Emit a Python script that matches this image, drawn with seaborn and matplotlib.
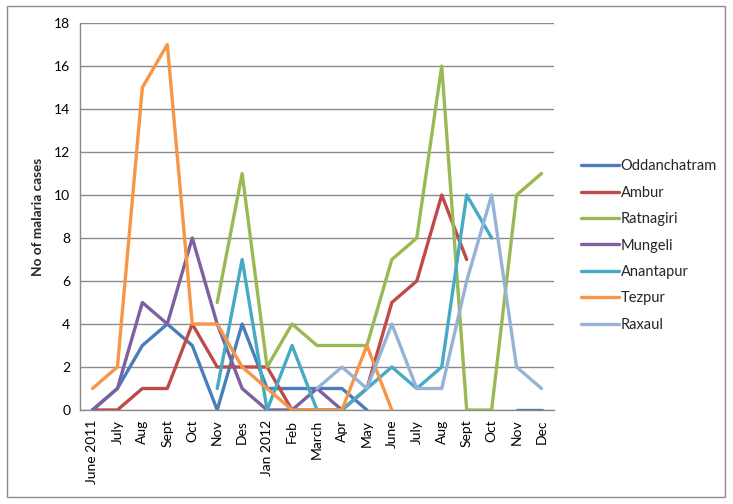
import numpy as np
import pandas as pd
import matplotlib
matplotlib.use("Agg")
import matplotlib.pyplot as plt
import seaborn as sns
from matplotlib.patches import Rectangle

# months from June 2011 to Dec 2012 (gaps in survey = NaN)
months = ['June 2011', 'July', 'Aug', 'Sept', 'Oct', 'Nov', 'Des', 'Jan 2012', 'Feb',
          'March', 'Apr', 'May', 'June', 'July', 'Aug', 'Sept', 'Oct', 'Nov', 'Dec']
n = np.nan
oddanchatram = [0, 1, 3, 4, 3, 0, 4, 1, 1, 1, 1, 0, n, n, n, n, n, 0, 0]
ambur = [0, 0, 1, 1, 4, 2, 2, 2, 0, 0, 0, 1, 5, 6, 10, 7, n, n, n]
ratnagiri = [n, n, n, n, n, 5, 11, 2, 4, 3, 3, 3, 7, 8, 16, 0, 0, 10, 11]
mungeli = [0, 1, 5, 4, 8, 4, 1, 0, 0, 1, 0, n, n, n, n, n, n, n, n]
anantapur = [n, n, n, n, n, 1, 7, 0, 3, 0, 0, 1, 2, 1, 2, 10, 8, n, n]
tezpur = [1, 2, 15, 17, 4, 4, 2, 1, 0, 0, 0, 3, 0, n, n, n, n, n, n]
raxaul = [n, n, n, n, n, n, n, n, n, 1, 2, 1, 4, 1, 1, 6, 10, 2, 1]

series = {'Oddanchatram': oddanchatram, 'Ambur': ambur, 'Ratnagiri': ratnagiri,
          'Mungeli': mungeli, 'Anantapur': anantapur, 'Tezpur': tezpur, 'Raxaul': raxaul}
colors = ['#4A7EBB', '#BE4B48', '#98B954', '#7D60A0', '#46AAC5', '#F79646', '#95B3D7']

sns.set_style("white")
plt.rcParams['font.family'] = ['Lato', 'DejaVu Sans']

fig = plt.figure(figsize=(7.33, 5.04), dpi=100)
ax = fig.add_axes([80 / 733, 94 / 504, 474 / 733, 387 / 504])

x = np.arange(len(months))
for (name, vals), col in zip(series.items(), colors):
    df = pd.DataFrame({'x': x, 'y': vals})
    # split into contiguous runs so the gaps stay open
    grp = df['y'].isna().cumsum()
    first = True
    for _, seg in df.dropna().groupby(grp[df['y'].notna()]):
        sns.lineplot(data=seg, x='x', y='y', color=col, linewidth=2.4, ax=ax,
                     label=name if first else None, legend=False, zorder=3)
        first = False

ax.set_xlim(-0.5, len(months) - 0.5)
ax.set_ylim(0, 18)
ax.set_yticks(range(0, 19, 2))
ax.set_xticks(x)
ax.set_xticklabels(months, rotation=90)
ax.tick_params(axis='both', labelsize=10, length=0, pad=7, colors='black')
ax.set_xlabel('')
ax.set_ylabel('No of malaria cases', fontsize=9.8, fontweight='bold', labelpad=7)
ax.yaxis.grid(True, color='#8a8a8a', linewidth=1)
ax.set_axisbelow(True)
for s in ['top', 'right']:
    ax.spines[s].set_visible(False)
for s in ['left', 'bottom']:
    ax.spines[s].set_color('#8a8a8a')
    ax.spines[s].set_linewidth(1)

ax.legend(loc='center left', bbox_to_anchor=(1.03, 0.425), frameon=False, fontsize=10.5,
          handlelength=2.6, handletextpad=0.1, labelspacing=0.85)

fig.patches.append(Rectangle((7 / 733, 7 / 504), 718 / 733, 491 / 504, transform=fig.transFigure,
                             fill=False, edgecolor='#8c8c8c', linewidth=1))

fig.savefig('out.png', dpi=100)
